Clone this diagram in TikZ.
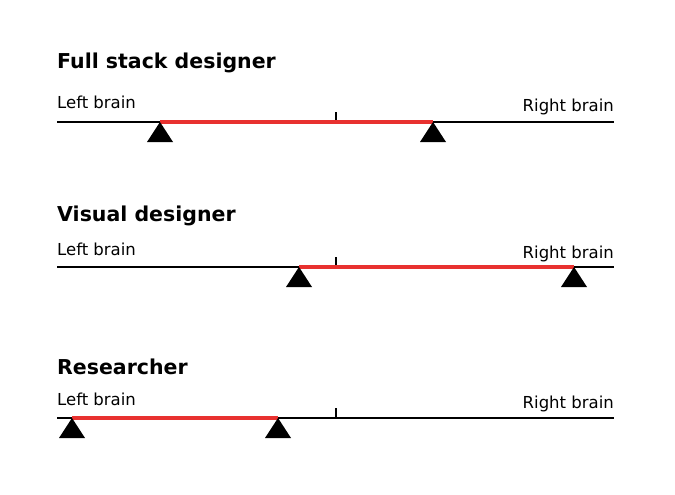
\documentclass[tikz,border=0pt]{standalone}
\usepackage{fontspec}
\setsansfont{DejaVu Sans}
\usepackage{tikz}
\usetikzlibrary{positioning}
\definecolor{beamred}{HTML}{E8312F}

\tikzset{
  pivot/.pic={\fill (0,0) -- (-13,20) -- (13,20) -- cycle;}
}

\begin{document}
\begin{tikzpicture}[x=1pt,y=-1pt,
  font=\sffamily,
  role/.style={anchor=base west,inner sep=0pt,font=\sffamily\bfseries\fontsize{20.5}{24}\selectfont},
  side/.style={inner sep=0pt,font=\sffamily\fontsize{16.5}{20}\selectfont},
  scale line/.style={line width=2pt,draw=black},
  span/.style={line width=3.5pt,draw=beamred},
  mid tick/.style={line width=1.6pt,draw=black}
]
  \useasboundingbox (0,0) rectangle (675,495);

  % full stack designer
  \node[role] (fsTitle) at (57,69) {Full stack designer};
  \node[side,anchor=base west] (fsLeft) at (57,108) {Left brain};
  \node[side,anchor=base east] (fsRight) at (614,111) {Right brain};
  \coordinate (fsA) at (57,122);
  \coordinate (fsB) at (614,122);
  \coordinate (fsM) at (336,122);
  \coordinate (fsP) at (160,122);
  \coordinate (fsQ) at (433,122);
  \draw[scale line] (fsA) -- (fsB);
  \draw[mid tick] (fsM) -- ++(0,-10);
  \draw[span] (fsP) -- (fsQ);
  \pic at (fsP) {pivot};
  \pic at (fsQ) {pivot};

  % visual designer
  \node[role] (vdTitle) at (57,221) {Visual designer};
  \node[side,anchor=base west] (vdLeft) at (57,255) {Left brain};
  \node[side,anchor=base east] (vdRight) at (614,258) {Right brain};
  \coordinate (vdA) at (57,267);
  \coordinate (vdB) at (614,267);
  \coordinate (vdM) at (336,267);
  \coordinate (vdP) at (299,267);
  \coordinate (vdQ) at (574,267);
  \draw[scale line] (vdA) -- (vdB);
  \draw[mid tick] (vdM) -- ++(0,-10);
  \draw[span] (vdP) -- (vdQ);
  \pic at (vdP) {pivot};
  \pic at (vdQ) {pivot};

  % researcher
  \node[role] (reTitle) at (57,374) {Researcher};
  \node[side,anchor=base west] (reLeft) at (57,405) {Left brain};
  \node[side,anchor=base east] (reRight) at (614,408) {Right brain};
  \coordinate (reA) at (57,418);
  \coordinate (reB) at (614,418);
  \coordinate (reM) at (336,418);
  \coordinate (reP) at (72,418);
  \coordinate (reQ) at (278,418);
  \draw[scale line] (reA) -- (reB);
  \draw[mid tick] (reM) -- ++(0,-10);
  \draw[span] (reP) -- (reQ);
  \pic at (reP) {pivot};
  \pic at (reQ) {pivot};
\end{tikzpicture}
\end{document}
